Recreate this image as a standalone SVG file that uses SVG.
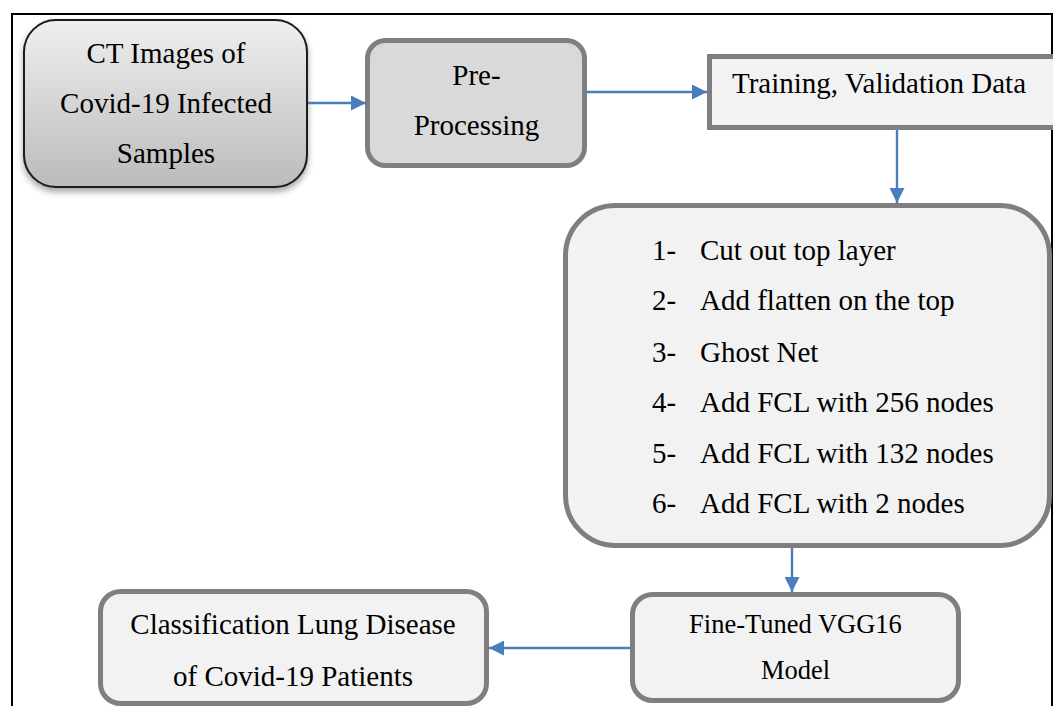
<svg xmlns="http://www.w3.org/2000/svg" width="1053" height="706" viewBox="0 0 1053 706">
  <defs>
    <linearGradient id="gradCT" x1="0" y1="0" x2="0" y2="1">
      <stop offset="0" stop-color="#efefef"/>
      <stop offset="1" stop-color="#bbbbbb"/>
    </linearGradient>
    <filter id="shadow" x="-10%" y="-10%" width="120%" height="130%">
      <feDropShadow dx="0" dy="4" stdDeviation="3" flood-color="#000" flood-opacity="0.35"/>
    </filter>
    <marker id="arrow" markerWidth="15" markerHeight="15" refX="15" refY="7.5" orient="auto" markerUnits="userSpaceOnUse">
      <path d="M0,0 L15,7.5 L0,15 Z" fill="#4a7ebb"/>
    </marker>
  </defs>
  <style>
    .t { font-family: "Liberation Serif", "Times New Roman", serif; font-size: 29px; fill: #000; }
    .s { font-size: 26.5px; }
    .box { fill: #f2f2f2; stroke: #7f7f7f; stroke-width: 5; }
    .conn { stroke: #4a7ebb; stroke-width: 2.4; fill: none; marker-end: url(#arrow); }
  </style>
  <rect width="1053" height="706" fill="#fff"/>
  <path d="M12,720 V14 H1052 V720" fill="none" stroke="#000" stroke-width="2"/>

  <g id="ct-images">
    <rect x="24" y="20" width="283" height="167" rx="32" fill="url(#gradCT)" stroke="#1a1a1a" stroke-width="2" filter="url(#shadow)"/>
    <text class="t" x="166" y="63" text-anchor="middle">CT Images of</text>
    <text class="t" x="166" y="113" text-anchor="middle">Covid-19 Infected</text>
    <text class="t" x="166" y="163" text-anchor="middle">Samples</text>
  </g>

  <g id="pre-processing">
    <rect x="367.5" y="40.5" width="217" height="125" rx="18" fill="#d9d9d9" stroke="#7f7f7f" stroke-width="5"/>
    <text class="t" x="476.5" y="85" text-anchor="middle">Pre-</text>
    <text class="t" x="476.5" y="135" text-anchor="middle">Processing</text>
  </g>

  <g id="training-data">
    <rect class="box" x="709.5" y="56.5" width="360" height="71"/>
    <text class="t" x="732" y="93">Training, Validation Data</text>
  </g>

  <g id="steps">
    <rect class="box" x="565.5" y="205.5" width="484" height="340" rx="50"/>
    <text class="t" x="652" y="260">1-</text><text class="t" x="700" y="260">Cut out top layer</text>
    <text class="t" x="652" y="310">2-</text><text class="t" x="700" y="310">Add flatten on the top</text>
    <text class="t" x="652" y="362">3-</text><text class="t" x="700" y="362">Ghost Net</text>
    <text class="t" x="652" y="412">4-</text><text class="t" x="700" y="412">Add FCL with 256 nodes</text>
    <text class="t" x="652" y="463">5-</text><text class="t" x="700" y="463">Add FCL with 132 nodes</text>
    <text class="t" x="652" y="513">6-</text><text class="t" x="700" y="513">Add FCL with 2 nodes</text>
  </g>

  <g id="fine-tuned">
    <rect class="box" x="632.5" y="594.5" width="326" height="106" rx="20"/>
    <text class="t s" x="795.5" y="633" text-anchor="middle">Fine-Tuned VGG16</text>
    <text class="t s" x="795.5" y="679" text-anchor="middle">Model</text>
  </g>

  <g id="classification">
    <rect class="box" x="100.5" y="591.5" width="386" height="112" rx="20"/>
    <text class="t" x="293" y="634" text-anchor="middle">Classification Lung Disease</text>
    <text class="t" x="293" y="686" text-anchor="middle">of Covid-19 Patients</text>
  </g>

  <g id="connectors">
    <line class="conn" x1="308" y1="103" x2="366" y2="103"/>
    <line class="conn" x1="587" y1="92" x2="707" y2="92"/>
    <line class="conn" x1="897" y1="130" x2="897" y2="203"/>
    <line class="conn" x1="792" y1="548" x2="792" y2="592"/>
    <line class="conn" x1="630" y1="648" x2="489" y2="648"/>
  </g>
</svg>
